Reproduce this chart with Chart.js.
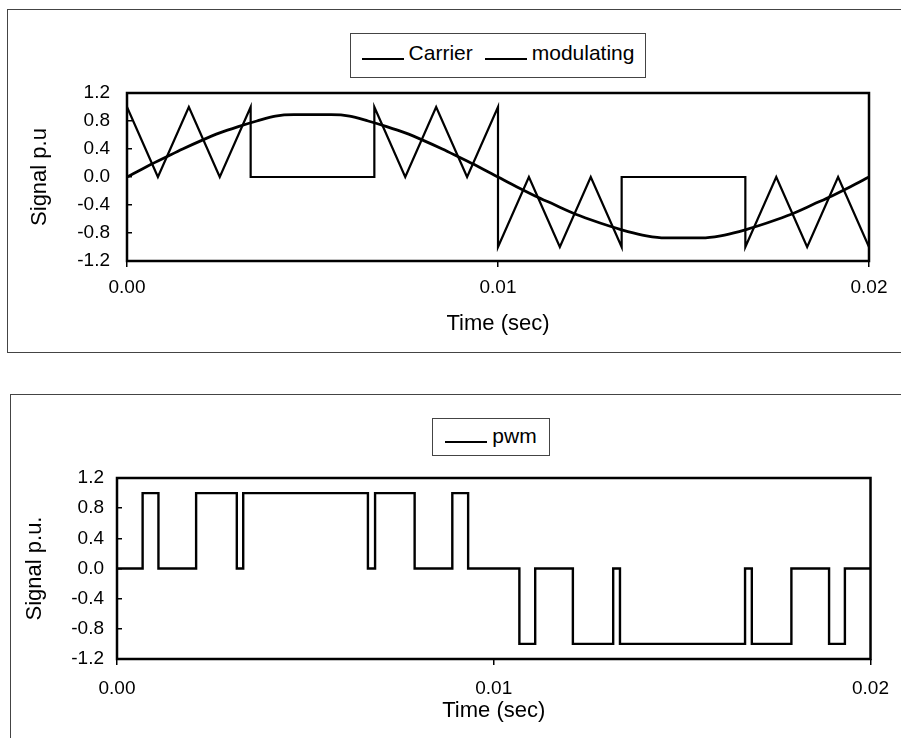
<!DOCTYPE html>
<html>
<head>
<meta charset="utf-8">
<script src="https://cdn.jsdelivr.net/npm/chart.js@4.4.0/dist/chart.umd.min.js"></script>
<style>
  body { margin: 0; background: #fff; width: 901px; height: 738px; overflow: hidden; position: relative;
         font-family: "Liberation Sans", Arial, sans-serif; }
  .frame { position: absolute; border: 1px solid #444; border-right: none; }
  #frameTop { left: 7px; top: 9px; width: 900px; height: 342px; }
  #frameBottom { left: 10px; top: 394px; width: 900px; height: 400px; border-bottom: none; }
  .chartBox { position: absolute; left: 0; }
  .legend { position: absolute; box-sizing: border-box; border: 1px solid #444; background: #fff;
            display: flex; align-items: center; justify-content: center; font-size: 21px; color: #000; }
  .legend .item { display: flex; align-items: baseline; white-space: nowrap; margin: 0 6px; }
  .legend .sample { display: inline-block; width: 42px; height: 0; border-bottom: 2px solid #000; margin: 0 5px 5px 0; }
  #legendTop { left: 350px; top: 33px; width: 296px; height: 45px; padding-bottom: 6px; }
  #legendBottom { left: 432px; top: 418px; width: 118px; height: 38px; padding-bottom: 2px; }
</style>
</head>
<body>
<div class="frame" id="frameTop"></div>
<div class="frame" id="frameBottom"></div>

<div class="chartBox" style="top:0"><canvas id="chartTop" width="901" height="360"></canvas></div>
<div class="chartBox" style="top:370px"><canvas id="chartBottom" width="901" height="368"></canvas></div>

<div class="legend" id="legendTop"></div>
<div class="legend" id="legendBottom"></div>

<script>
// values: time in seconds, signal in p.u.
const carrierTime = [0, 0.000833, 0.001667, 0.0025, 0.003333, 0.003333, 0.006667, 0.006667, 0.0075, 0.008333, 0.009167, 0.01,
                     0.01, 0.010833, 0.011667, 0.0125, 0.013333, 0.013333, 0.016667, 0.016667, 0.0175, 0.018333, 0.019167, 0.02];
const carrierValue = [1, 0, 1, 0, 1, 0, 0, 1, 0, 1, 0, 1,
                      -1, 0, -1, 0, -1, 0, 0, -1, 0, -1, 0, -1];

const modTime = [0, 0.0005, 0.001, 0.0015, 0.002, 0.0025, 0.003, 0.0035, 0.004, 0.0045, 0.005, 0.0055, 0.006, 0.0065,
                 0.007, 0.0075, 0.008, 0.0085, 0.009, 0.0095, 0.01, 0.0105, 0.011, 0.0115, 0.012, 0.0125, 0.013, 0.0135,
                 0.014, 0.0145, 0.015, 0.0155, 0.016, 0.0165, 0.017, 0.0175, 0.018, 0.0185, 0.019, 0.0195, 0.02];
const modValue = [0.00, 0.14, 0.27, 0.40, 0.52, 0.63, 0.72, 0.80, 0.87, 0.89, 0.89, 0.89, 0.87, 0.80,
                  0.72, 0.63, 0.52, 0.40, 0.27, 0.14, 0.00, -0.14, -0.27, -0.39, -0.51, -0.61, -0.70, -0.78,
                  -0.84, -0.87, -0.87, -0.87, -0.84, -0.78, -0.70, -0.61, -0.51, -0.39, -0.27, -0.14, 0.00];

// pwm switching instants and the level held from each instant on
const pwmTime = [0, 0.00068, 0.0011, 0.0021, 0.00318, 0.00335, 0.00666, 0.00685, 0.0079, 0.0089, 0.00932,
                 0.01068, 0.0111, 0.0121, 0.01317, 0.01335, 0.01667, 0.01685, 0.0179, 0.0189, 0.01932, 0.02];
const pwmValue = [0, 1, 0, 1, 0, 1, 0, 1, 0, 1, 0,
                  -1, 0, -1, 0, -1, 0, -1, 0, -1, 0, 0];

const xTicks = [0, 0.01, 0.02];
const xTickLabels = ['0.00', '0.01', '0.02'];
const yTicks = [-1.2, -0.8, -0.4, 0, 0.4, 0.8, 1.2];
const yTickLabels = ['-1.2', '-0.8', '-0.4', '0.0', '0.4', '0.8', '1.2'];

const fontFamily = '"Liberation Sans", Arial, sans-serif';
const tickFont = { family: fontFamily, size: 19 };
const titleFont = { family: fontFamily, size: 22 };

function toPoints(xs, ys) {
  return xs.map((x, i) => ({ x: x, y: ys[i] }));
}

// box round the plot area
const plotBorder = {
  id: 'plotBorder',
  afterDatasetsDraw(chart) {
    const { ctx, chartArea: a } = chart;
    ctx.save();
    ctx.strokeStyle = '#000';
    ctx.lineWidth = 2.5;
    ctx.strokeRect(a.left, a.top, a.right - a.left, a.bottom - a.top);
    ctx.restore();
  }
};

// legend as html, built from the datasets
const htmlLegend = {
  id: 'htmlLegend',
  afterUpdate(chart, args, options) {
    const box = document.getElementById(options.containerID);
    box.innerHTML = '';
    chart.data.datasets.forEach(ds => {
      const item = document.createElement('span');
      item.className = 'item';
      const line = document.createElement('span');
      line.className = 'sample';
      line.style.borderBottomColor = ds.borderColor;
      const text = document.createElement('span');
      text.textContent = ds.label;
      item.appendChild(line);
      item.appendChild(text);
      box.appendChild(item);
    });
  }
};

function makeScales(o) {
  return {
    x: {
      type: 'linear', min: 0, max: 0.02,
      afterBuildTicks: s => { s.ticks = xTicks.map(v => ({ value: v })); },
      afterFit: s => { s.height = o.xHeight; },
      grid: { drawOnChartArea: false, color: '#000', tickLength: 6, lineWidth: 1.5 },
      border: { display: false },
      ticks: { color: '#000', padding: o.xPad, maxRotation: 0, autoSkip: false, font: tickFont,
               callback: (v, i) => xTickLabels[i] },
      title: { display: true, text: 'Time (sec)', color: '#000', font: titleFont, padding: 0 }
    },
    y: {
      min: -1.2, max: 1.2,
      afterBuildTicks: s => { s.ticks = yTicks.map(v => ({ value: v })); },
      afterFit: s => { s.width = o.yWidth; },
      grid: { drawOnChartArea: false, color: '#000', tickLength: -5, lineWidth: 1.5 },
      border: { display: false },
      ticks: { color: '#000', padding: o.yPad, autoSkip: false, font: tickFont,
               callback: (v, i) => yTickLabels[i] },
      title: { display: true, text: o.yTitle, color: '#000', font: titleFont, padding: 0 }
    }
  };
}

new Chart(document.getElementById('chartTop'), {
  type: 'line',
  data: {
    datasets: [{
      label: 'Carrier',
      data: toPoints(carrierTime, carrierValue),
      borderColor: '#000',
      borderWidth: 2.2,
      pointRadius: 0,
      tension: 0
    }, {
      label: 'modulating',
      data: toPoints(modTime, modValue),
      borderColor: '#000',
      borderWidth: 2.8,
      pointRadius: 0,
      cubicInterpolationMode: 'monotone'
    }]
  },
  options: {
    responsive: false,
    animation: false,
    events: [],
    layout: { padding: { left: 27, top: 93, right: 32, bottom: 23 } },
    plugins: { legend: { display: false }, tooltip: { enabled: false }, htmlLegend: { containerID: 'legendTop' } },
    scales: makeScales({ xHeight: 76, xPad: 9, yWidth: 100, yPad: 22, yTitle: 'Signal p.u' })
  },
  plugins: [plotBorder, htmlLegend]
});

new Chart(document.getElementById('chartBottom'), {
  type: 'line',
  data: {
    datasets: [{
      label: 'pwm',
      data: toPoints(pwmTime, pwmValue),
      borderColor: '#000',
      borderWidth: 2.4,
      pointRadius: 0,
      stepped: true
    }]
  },
  options: {
    responsive: false,
    animation: false,
    events: [],
    layout: { padding: { left: 22, top: 108, right: 30, bottom: 14 } },
    plugins: { legend: { display: false }, tooltip: { enabled: false }, htmlLegend: { containerID: 'legendBottom' } },
    scales: makeScales({ xHeight: 65, xPad: 12, yWidth: 95, yPad: 18, yTitle: 'Signal p.u.' })
  },
  plugins: [plotBorder, htmlLegend]
});
</script>
</body>
</html>
